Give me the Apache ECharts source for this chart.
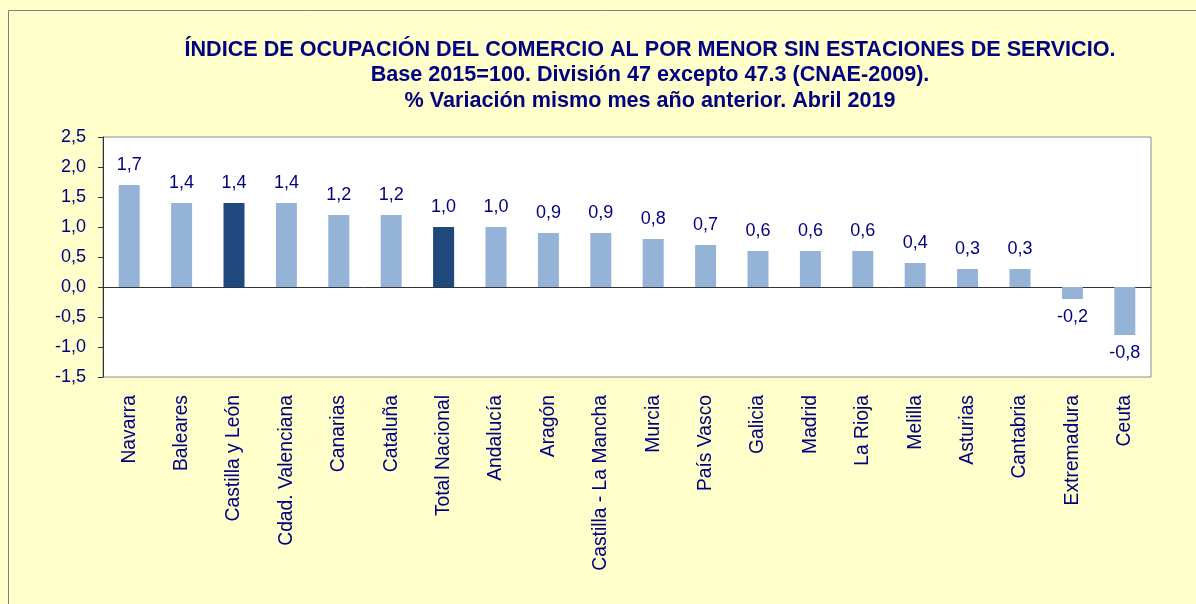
<!DOCTYPE html>
<html>
<head>
<meta charset="utf-8">
<script src="https://cdn.jsdelivr.net/npm/echarts@6/dist/echarts.min.js"></script>
<style>
  html, body { margin: 0; padding: 0; background: #ffffff; }
  #main { width: 1196px; height: 604px; }
</style>
</head>
<body>
<div id="main"></div>
<script>
// datos
const regiones = ['Navarra', 'Baleares', 'Castilla y León', 'Cdad. Valenciana', 'Canarias', 'Cataluña',
  'Total Nacional', 'Andalucía', 'Aragón', 'Castilla - La Mancha', 'Murcia', 'País Vasco', 'Galicia',
  'Madrid', 'La Rioja', 'Melilla', 'Asturias', 'Cantabria', 'Extremadura', 'Ceuta'];
const variacion = [1.7, 1.4, 1.4, 1.4, 1.2, 1.2, 1.0, 1.0, 0.9, 0.9, 0.8, 0.7, 0.6, 0.6, 0.6, 0.4, 0.3, 0.3, -0.2, -0.8];
const destacadas = ['Castilla y León', 'Total Nacional'];
const yTicks = { min: -1.5, max: 2.5, step: 0.5 };

const navy = '#000080';
const fmt = v => v.toFixed(1).replace('.', ',');

let myChart = echarts.init(document.getElementById('main'));

// eje auxiliar con el doble de categorías para poner marcas en centros y bordes
const tickCats = [];
regiones.forEach((r, i) => { tickCats.push('a' + i); tickCats.push('b' + i); });

myChart.setOption({
  backgroundColor: '#FFFFCC',
  animation: false,
  textStyle: { fontFamily: '"Liberation Sans", Arial, sans-serif' },
  title: {
    text: 'ÍNDICE DE OCUPACIÓN DEL COMERCIO AL POR MENOR SIN ESTACIONES DE SERVICIO.\nBase 2015=100. División 47 excepto 47.3 (CNAE-2009).\n% Variación mismo mes año anterior. Abril 2019',
    left: 645,
    top: 32,
    textAlign: 'center',
    textStyle: {
      color: navy,
      fontSize: 21.6,
      fontWeight: 'bold',
      lineHeight: 25.5,
      fontFamily: '"Liberation Sans", Arial, sans-serif'
    }
  },
  graphic: [{
    type: 'rect',
    shape: { x: 8.5, y: 10.5, width: 1300, height: 700 },
    style: { fill: 'none', stroke: '#7f7f7f', lineWidth: 1 },
    silent: true
  }],
  grid: {
    left: 103,
    right: 45,
    top: 137,
    bottom: 227,
    show: true,
    backgroundColor: '#ffffff',
    borderColor: '#8c8c8c',
    borderWidth: 1
  },
  xAxis: [
    {
      type: 'category',
      data: regiones,
      position: 'bottom',
      axisLine: { show: false, onZero: false },
      axisTick: { show: false },
      axisLabel: {
        rotate: 90,
        interval: 0,
        margin: 18,
        color: navy,
        fontSize: 19.3
      }
    },
    {
      type: 'category',
      data: tickCats,
      position: 'bottom',
      axisLine: { onZero: true, lineStyle: { color: '#333333', width: 1 } },
      axisTick: { interval: 0, length: 5, lineStyle: { color: '#333333' } },
      axisLabel: { show: false }
    }
  ],
  yAxis: {
    type: 'value',
    min: yTicks.min,
    max: yTicks.max,
    interval: yTicks.step,
    splitLine: { show: false },
    axisLine: { show: true, lineStyle: { color: '#333333' } },
    axisTick: { show: true, length: 5, lineStyle: { color: '#333333' } },
    axisLabel: { color: navy, fontSize: 18, margin: 17, formatter: fmt }
  },
  series: [{
    type: 'bar',
    xAxisIndex: 0,
    barWidth: 21,
    data: variacion.map((v, i) => ({
      value: v,
      itemStyle: { color: destacadas.includes(regiones[i]) ? '#1F497D' : '#95B3D7' },
      label: { position: v < 0 ? 'bottom' : 'top', distance: v < 0 ? 9 : 11 }
    })),
    label: {
      show: true,
      color: navy,
      fontSize: 18,
      formatter: p => fmt(p.value)
    }
  }]
});
</script>
</body>
</html>
